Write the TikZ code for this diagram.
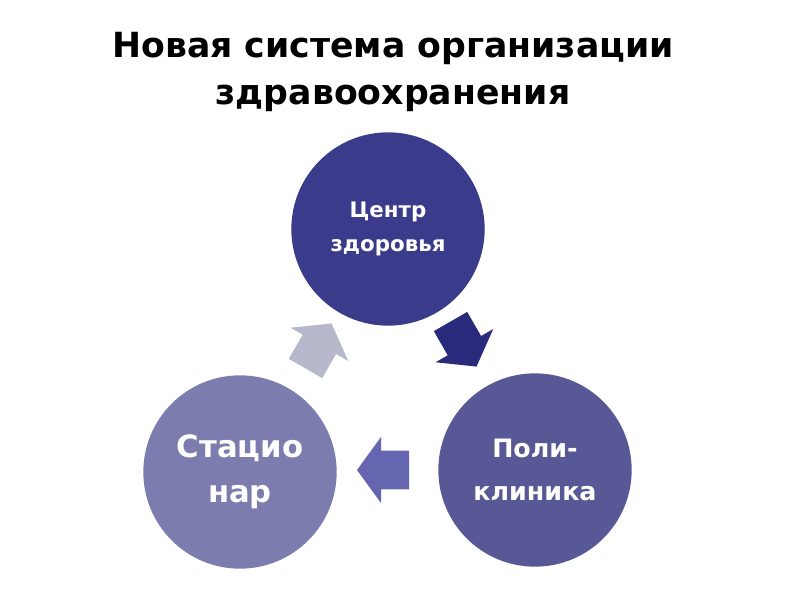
\documentclass[tikz,border=0pt]{standalone}
\usepackage{fontspec}
\setmainfont{DejaVu Sans}
\usetikzlibrary{shapes.arrows}
\definecolor{centerblue}{HTML}{3B3B8C}
\definecolor{clinicblue}{HTML}{585896}
\definecolor{hospblue}{HTML}{7C7CAE}
\definecolor{darkflow}{HTML}{2A2A7C}
\definecolor{midflow}{HTML}{6666B0}
\definecolor{lightflow}{HTML}{B8B8CC}

\begin{document}
\begin{tikzpicture}[
    x=0.75pt, y=-0.75pt,
    stage/.style={circle, minimum size=145pt, inner sep=0pt, text=white,
                  align=center},
    flow/.style={single arrow, inner xsep=0pt, inner ysep=14.25pt,
                 minimum height=39pt, single arrow head extend=10.5pt,
                 single arrow tip angle=108},
]
\useasboundingbox[fill=white] (0,0) rectangle (800,600);
\node[align=center, font=\bfseries\fontsize{26}{35}\selectfont] (title) at (393,72)
    {Новая система организации\\здравоохранения};
% the three stages of the cycle
\node[stage, fill=centerblue, font=\bfseries\fontsize{16}{26}\selectfont] (center) at (388,229) {Центр\\здоровья};
\node[stage, fill=clinicblue, font=\bfseries\fontsize{19}{32}\selectfont] (clinic) at (535,470) {Поли-\\клиника};
\node[stage, fill=hospblue,   font=\bfseries\fontsize{23}{34}\selectfont] (hosp)   at (240,472) {Стацио\\нар};
% block arrows between them
\node[flow, fill=darkflow,  rotate=-60] (tocl) at (460,338) {};
\node[flow, fill=midflow,   rotate=180] (toho) at (390,470) {};
\node[flow, fill=lightflow, rotate=60]  (toce) at (315,352) {};
\end{tikzpicture}
\end{document}
